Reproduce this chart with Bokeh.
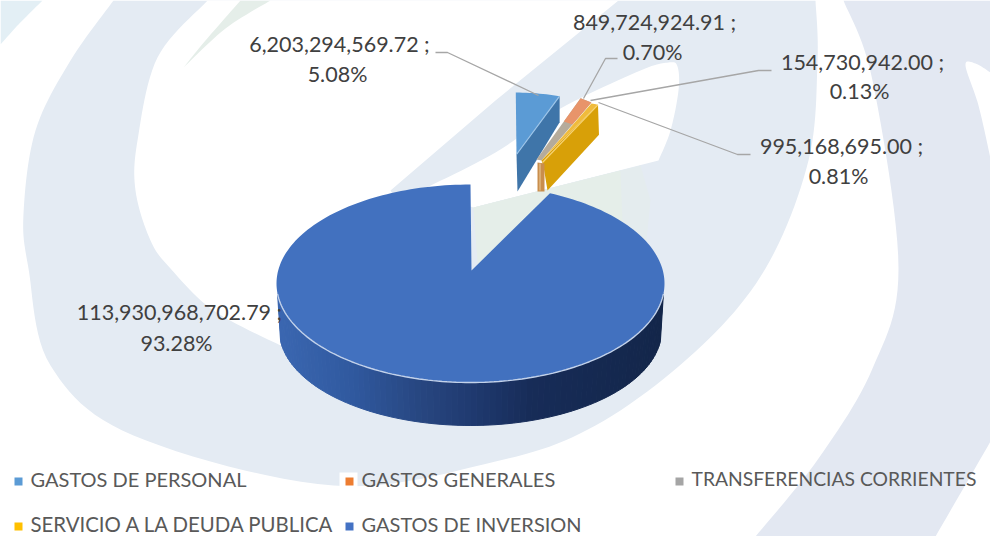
import math
from bokeh.plotting import figure
from bokeh.embed import file_html
from bokeh.resources import INLINE
from bokeh.core.properties import value
from bokeh.models import Range1d

# ---- data
categories = ["GASTOS DE PERSONAL", "GASTOS GENERALES", "TRANSFERENCIAS CORRIENTES",
              "SERVICIO A LA DEUDA PUBLICA", "GASTOS DE INVERSION"]
amounts = [6203294569.72, 849724924.91, 154730942.00, 995168695.00, 113930968702.79]

# ---- styles
top_colors = ["#5b9bd5", "#e8946a", "#b5ab9b", "#f0bb3c", "#4271bf"]
legend_colors = ["#5b9bd5", "#ed7d31", "#a5a5a5", "#ffc000", "#4472c4"]
legend_sizes = ["20px", "20px", "19.3px", "20.4px", "20px"]
FONT = value("Lato")

p = figure(width=990, height=536, output_backend="svg", toolbar_location=None,
           x_range=Range1d(0, 990), y_range=Range1d(536, 0), min_border=0,
           background_fill_color="white")
p.axis.visible = False
p.grid.visible = False
p.outline_line_color = None


def catmull(pts, n=12):
    out = []
    P = [pts[0]] + list(pts) + [pts[-1]]
    for i in range(1, len(P) - 2):
        p0, p1, p2, p3 = P[i - 1], P[i], P[i + 1], P[i + 2]
        for k in range(n):
            t = k / n
            out.append(tuple(0.5 * (2 * p1[d] + (p2[d] - p0[d]) * t +
                                    (2 * p0[d] - 5 * p1[d] + 4 * p2[d] - p3[d]) * t * t +
                                    (3 * p1[d] - p0[d] - 3 * p2[d] + p3[d]) * t ** 3) for d in (0, 1)))
    out.append(pts[-1])
    return out


def poly(pts, color, alpha=1.0):
    p.patch([a for a, _ in pts], [b for _, b in pts], fill_color=color, fill_alpha=alpha, line_color=None)


# ---- watermark behind the chart
PALE_L, PALE_R, GREEN = "#e4ebf3", "#e3e8f2", "#e5eee9"
poly(catmull([(42, 0), (18, 24), (0, 44)]) + [(0, 0)], "#e3eff5")
poly(catmull([(113, 0), (70, 60), (35, 130), (23, 213), (28, 268), (50, 365), (133, 435),
              (333, 485), (495, 461), (595, 425), (695, 351), (765, 268), (808, 160),
              (817, 60), (815, 0)]), PALE_L)
poly(catmull([(207, 0), (157, 57), (137, 140), (135, 190), (150, 240), (170, 268),
              (213, 310), (280, 345)]) + [(480, 340), (390, 190), (495, 100), (618, 0)], "white")
poly(catmull([(420, 190), (495, 152), (560, 108), (640, 70), (668, 62), (677, 66),
              (678, 90), (670, 130), (658, 160)]) + [(473, 207)], "white")
poly([(473, 207), (600, 175), (640, 165), (650, 200), (640, 300), (480, 300)], "#e4ecee")
poly([(473, 207), (600, 175), (620, 170), (625, 300), (480, 300)], GREEN)
poly(catmull([(183, 67), (205, 40), (240, 0)]) + [(270, 0)] + catmull([(270, 0), (225, 28), (183, 67)]), GREEN)
poly(catmull([(843, 0), (872, 80), (898, 268), (872, 368), (818, 458), (755, 536)])
     + [(935, 536)] + catmull([(935, 536), (990, 441)])
     + catmull([(990, 158), (978, 105), (965, 65), (975, 63), (990, 72)]) + [(990, 0)], PALE_R)

# ---- pie geometry (pixel layout of the 3-D projection)
CX, CY, RX, RY = 470, 283, 194, 99
BX, BY, BRX, BRY = 470, 330, 191, 95
APEX = (471, 270)
total = sum(amounts)
pct = [a / total * 100 for a in amounts]
edges = [0.0]
for a in amounts:
    edges.append(edges[-1] + a / total * 360)


def rim(t):
    r = math.radians(t)
    return (CX + RX * math.sin(r), CY - RY * math.cos(r))


def low(t):
    r = math.radians(t)
    return (BX + BRX * math.sin(r), BY - BRY * math.cos(r))


def face(t0, t1, apex, s):
    n = max(2, int((t1 - t0) / 1.5) + 2)
    pts = [apex]
    for k in range(n):
        x, y = rim(t0 + (t1 - t0) * k / (n - 1))
        pts.append((apex[0] + s * (x - APEX[0]), apex[1] + s * (y - APEX[1])))
    return pts


def mix(x):
    stops = [(280, (58, 102, 176)), (350, (48, 89, 159)), (420, (39, 70, 128)),
             (470, (31, 58, 112)), (530, (23, 44, 88)), (660, (19, 38, 74))]
    for (x0, c0), (x1, c1) in zip(stops, stops[1:]):
        if x <= x1:
            f = max(0, (x - x0) / (x1 - x0))
            return "#%02x%02x%02x" % tuple(round(a + (b - a) * f) for a, b in zip(c0, c1))
    return "#13264a"


# main slice: side wall as shaded strips, then the top face
steps = 90
for k in range(steps):
    t0 = 96 + (264 - 96) * k / steps
    t1 = 96 + (264 - 96) * (k + 1) / steps
    a, b, c, d = rim(t0), rim(t1), low(t1), low(t0)
    col = mix((a[0] + b[0]) / 2)
    p.patch([a[0], b[0], c[0], d[0]], [a[1], b[1], c[1], d[1]], fill_color=col,
            line_color=col, line_width=1)
poly(face(edges[4], edges[5], APEX, 1.0), top_colors[4])
hl = [rim(96 + 168 * k / 120) for k in range(121)]
p.line([a for a, _ in hl], [b for _, b in hl], line_color="#c3d2ea", line_width=1.4)

# exploded small slices
SCALE = 0.72
A_PER = (516, 154)
A_GEN = (536, 159)
A_TRA = (538.5, 158)
A_SER = (541, 160)

# personal: cut wall under the trailing edge
e = face(edges[0], edges[1], A_PER, SCALE)
end = e[-1]
poly([A_PER, end, (end[0], end[1] + 26), (A_PER[0] + 1, A_PER[1] + 37)], "#3f75a9")
poly(e, top_colors[0])
p.line([A_PER[0], end[0]], [A_PER[1], end[1]], line_color="#9cc4e8", line_width=1.2)

# generales / transferencias / servicio
g = face(edges[1], edges[2], A_GEN, SCALE)
tr = face(edges[2], edges[3], A_TRA, SCALE)
s = face(edges[3], edges[4], A_SER, SCALE)
tip = (g[1][0] + 1, g[1][1] - 3)
strip_far = (s[1][0], s[1][1] - 1)
poly([A_GEN, tip, strip_far, A_SER], top_colors[2])
f = 0.62
poly([(A_GEN[0] + (tip[0] - A_GEN[0]) * f, A_GEN[1] + (tip[1] - A_GEN[1]) * f), tip, strip_far,
      (A_SER[0] + (strip_far[0] - A_SER[0]) * f, A_SER[1] + (strip_far[1] - A_SER[1]) * f)], top_colors[1])
s_end = s[-1]
poly([A_SER, s_end, (s_end[0] + 1, s_end[1] + 30), (A_SER[0] + 6, A_SER[1] + 30), (A_SER[0] + 2, A_SER[1] + 6)], "#d8a008")
poly(s, top_colors[3])
p.line([A_SER[0] + 1, s_end[0]], [A_SER[1] + 2, s_end[1]], line_color="#f6d376", line_width=1.2)
poly([(A_GEN[0] + 1, A_GEN[1] + 3), (A_SER[0] + 3, A_SER[1] + 3), (A_SER[0] + 3, A_SER[1] + 31), (A_GEN[0] + 1, A_SER[1] + 31)], "#c98e4c")
p.line([A_GEN[0] + 3.5] * 2, [A_GEN[1] + 4, A_SER[1] + 30], line_color="#eacb9a", line_width=1)

# ---- leader lines
leaders_x = [[435, 447, 538], [617, 605, 583], [771, 758, 590], [750, 737, 598]]
leaders_y = [[52, 52, 95], [58, 58, 98], [70, 70, 100], [154, 154, 102]]
p.multi_line(leaders_x, leaders_y, line_color="#a6a6a6", line_width=1.3)

# ---- data labels: line 1 value, line 2 share (y = middle of the digits)
order = [0, 1, 2, 3, 4]
lab_x1 = [339, 654, 862, 841, 179]
lab_y1 = [43, 21, 61, 145, 311]
lab_x2 = [337, 652, 859, 838, 176]
lab_y2 = [73, 51, 90, 175, 342]
p.text(lab_x1, lab_y1, text=[f"{amounts[i]:,.2f} ;" for i in order], text_font=FONT, text_font_size="21.5px",
       text_color="#404040", text_align="center", text_baseline="middle")
p.text(lab_x2, lab_y2, text=[f"{pct[i]:.2f}%" for i in order], text_font=FONT, text_font_size="21.5px",
       text_color="#404040", text_align="center", text_baseline="middle")

# ---- legend
p.quad(left=[339], right=[357], top=[472], bottom=[488], fill_color="white", line_color=None)
leg_x = [14, 345, 675, 14, 345]
leg_y = [477, 477, 477, 522, 522]
p.quad(left=leg_x, right=[x + 8 for x in leg_x], top=leg_y, bottom=[y + 8 for y in leg_y],
       fill_color=legend_colors, line_color=None)
p.text([x + 16 for x in leg_x], [y + 1 for y in leg_y], text=categories, text_font=FONT,
       text_font_size=legend_sizes, text_color="#595959", text_align="left", text_baseline="middle")

open("out.html", "w").write(file_html(p, INLINE))
